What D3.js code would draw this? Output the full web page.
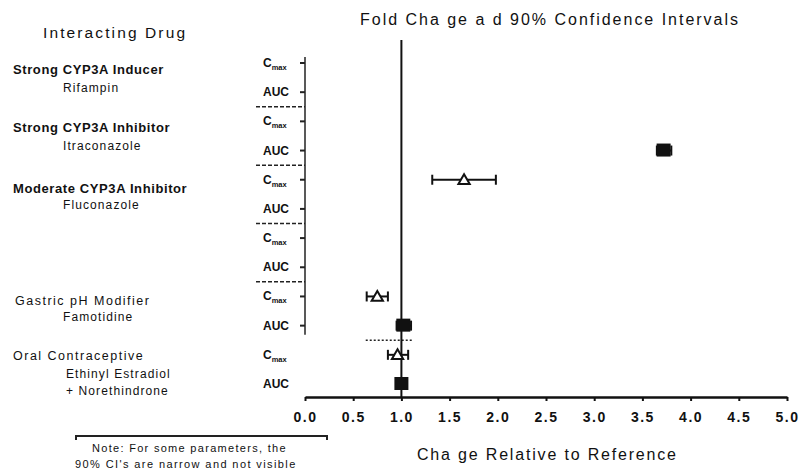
<!DOCTYPE html>
<html>
<head>
<meta charset="utf-8">
<script src="https://cdn.jsdelivr.net/npm/d3@7"></script>
<style>
  body { margin: 0; background: #fff; }
  svg text { font-family: "Liberation Sans", Arial, sans-serif; fill: #111; }
</style>
</head>
<body>
<svg id="chart" width="801" height="473"></svg>
<script>
// data
var groupNames = ["Strong CYP3A Inducer", "Strong CYP3A Inhibitor", "Moderate CYP3A Inhibitor", "", "Gastric pH Modifier", "Oral Contraceptive"]
var drugNames = [["Rifampin"], ["Itraconazole"], ["Fluconazole"], [], ["Famotidine"], ["Ethinyl Estradiol", "+ Norethindrone"]]
var params = ["Cmax", "AUC"]
var xTicks = [0, 0.5, 1, 1.5, 2, 2.5, 3, 3.5, 4, 4.5, 5]

// one entry per visible estimate: group, parameter, point estimate, 90% CI
var ptGroup = [1, 2, 4, 4, 5, 5]
var ptParam = ["AUC", "Cmax", "Cmax", "AUC", "Cmax", "AUC"]
var ptEst = [3.72, 1.65, 0.75, 1.02, 0.96, 1.00]
var ptLo = [3.65, 1.32, 0.64, 0.95, 0.86, 0.97]
var ptHi = [3.80, 1.98, 0.86, 1.10, 1.07, 1.03]

var svg = d3.select("#chart")

var rowKeys = []
groupNames.forEach(function (g, i) {
    params.forEach(function (p) { rowKeys.push(i + "-" + p) })
})

var x = d3.scaleLinear().domain([0, 5]).range([305, 787])
var y = d3.scalePoint().domain(rowKeys).range([63, 384])

// titles
svg.append("text").attr("x", 43).attr("y", 38).attr("textLength", 142).attr("lengthAdjust", "spacing")
    .style("font-size", "15.5px").text("Interacting Drug")
svg.append("text").attr("x", 360).attr("y", 25).attr("textLength", 378).attr("lengthAdjust", "spacing")
    .style("font-size", "16px").text("Fold Cha  ge a  d 90% Confidence Intervals")

// group labels: offsets of the group line and drug lines from the Cmax row
var groupDy = [11, 11, 13, 0, 9, 5]
var drugDy = [29, 29, 29, 0, 25, 23]
groupNames.forEach(function (g, i) {
    var yc = y(i + "-Cmax")
    var bold = i < 4
    svg.append("text").attr("x", i == 4 ? 15 : 13).attr("y", yc + groupDy[i])
        .style("font-size", bold ? "13px" : "12.5px").style("font-weight", bold ? "bold" : "normal")
        .style("letter-spacing", bold ? "0.6px" : "1.5px")
        .text(g)
    drugNames[i].forEach(function (d, j) {
        svg.append("text").attr("x", i == 5 ? 66 : 63).attr("y", yc + drugDy[i] + j * 17)
            .style("font-size", "12px").style("letter-spacing", "1.1px").text(d)
    })
})

// parameter labels
rowKeys.forEach(function (k) {
    var p = k.split("-")[1]
    var t = svg.append("text").attr("x", 263).attr("y", y(k) + 4).style("font-size", "12px").style("font-weight", "bold")
    if (p == "Cmax") {
        t.append("tspan").attr("fill", "#111").text("C")
        t.append("tspan").attr("dy", 3).attr("fill", "#111").style("font-size", "7.5px").text("max")
    } else {
        t.text("AUC")
    }
})

// y axis line with small ticks (not for last group)
var lastY = y("4-AUC") + 9
svg.append("line").attr("x1", 305).attr("x2", 305).attr("y1", 57).attr("y2", lastY)
    .attr("stroke", "#222").attr("stroke-width", 1.5)
rowKeys.slice(0, 10).forEach(function (k) {
    svg.append("line").attr("x1", 300).attr("x2", 305).attr("y1", y(k)).attr("y2", y(k))
        .attr("stroke", "#222").attr("stroke-width", 2)
})

// dashed separators between groups
for (var i = 0; i < 4; i++) {
    var sy = (y(i + "-AUC") + y((i + 1) + "-Cmax")) / 2
    svg.append("line").attr("x1", 256).attr("x2", 305).attr("y1", sy).attr("y2", sy)
        .attr("stroke", "#222").attr("stroke-width", 1.5).attr("stroke-dasharray", "4,2")
}
var dy5 = (y("4-AUC") + y("5-Cmax")) / 2
svg.append("line").attr("x1", x(0.63)).attr("x2", x(1.12)).attr("y1", dy5).attr("y2", dy5)
    .attr("stroke", "#222").attr("stroke-width", 1.5).attr("stroke-dasharray", "2,2")

// reference line at 1.0
svg.append("line").attr("x1", x(1)).attr("x2", x(1)).attr("y1", 40).attr("y2", 397)
    .attr("stroke", "#111").attr("stroke-width", 2)

// x axis
var xAxis = d3.axisBottom(x).tickValues(xTicks).tickFormat(d3.format(".1f")).tickSize(4).tickSizeOuter(0)
var axisG = svg.append("g").attr("transform", "translate(0,397)").call(xAxis)
axisG.select(".domain").attr("stroke", "#111").attr("stroke-width", 2.5)
axisG.selectAll(".tick line").attr("stroke", "#111").attr("stroke-width", 2)
axisG.selectAll(".tick text").attr("y", 15).style("font-size", "14px").style("font-weight", "bold")
    .style("letter-spacing", "1.5px").style("font-family", "'Liberation Sans', Arial, sans-serif").attr("fill", "#111")

svg.append("text").attr("x", 417).attr("y", 460).attr("textLength", 259).attr("lengthAdjust", "spacing")
    .style("font-size", "16px").text("Cha  ge Relative to Reference")

// note with bracket
svg.append("path").attr("d", "M 76 440 L 76 436 L 327 436 L 327 440")
    .attr("fill", "none").attr("stroke", "#222").attr("stroke-width", 2)
svg.append("text").attr("x", 92).attr("y", 452).style("font-size", "11px").style("letter-spacing", "1.3px")
    .text("Note: For some parameters, the")
svg.append("text").attr("x", 75).attr("y", 468).style("font-size", "11px").style("letter-spacing", "1.4px")
    .text("90% CI's are narrow and not visible")

// estimates with 90% CI
ptEst.forEach(function (e, i) {
    var py = y(ptGroup[i] + "-" + ptParam[i])
    var g = svg.append("g")
    g.append("line").attr("x1", x(ptLo[i])).attr("x2", x(ptHi[i])).attr("y1", py).attr("y2", py)
        .attr("stroke", "#111").attr("stroke-width", 2)
    ;[ptLo[i], ptHi[i]].forEach(function (v) {
        g.append("line").attr("x1", x(v)).attr("x2", x(v)).attr("y1", py - 5).attr("y2", py + 5)
            .attr("stroke", "#111").attr("stroke-width", 2)
    })
    if (ptParam[i] == "AUC") {
        g.append("rect").attr("x", x(e) - 7).attr("y", py - 7).attr("width", 14).attr("height", 13).attr("fill", "#111")
    } else {
        g.append("path").attr("d", d3.symbol().type(d3.symbolTriangle).size(55)())
            .attr("transform", "translate(" + x(e) + "," + (py + 1) + ")")
            .attr("fill", "#fff").attr("stroke", "#111").attr("stroke-width", 2)
    }
})
</script>
</body>
</html>
